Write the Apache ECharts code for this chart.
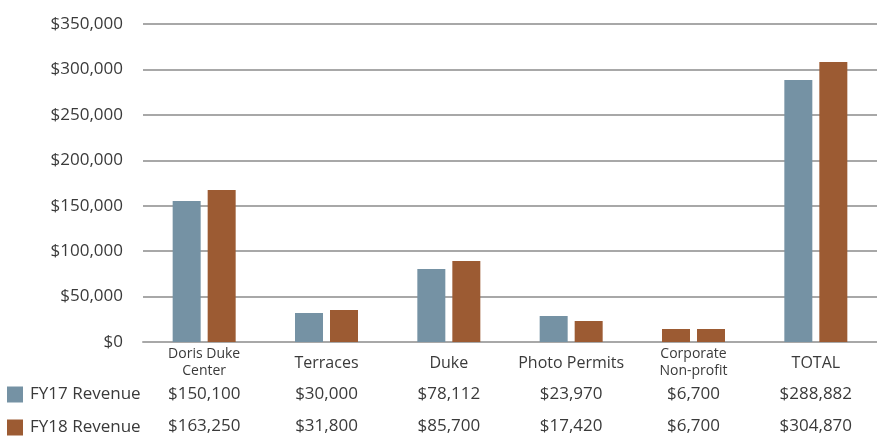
<!DOCTYPE html>
<html>
<head>
<meta charset="utf-8">
<script src="https://cdn.jsdelivr.net/npm/echarts@6/dist/echarts.min.js"></script>
<style>html,body{margin:0;padding:0;background:#fff}#c{width:877px;height:442px}</style>
</head>
<body>
<div id="c"></div>
<script>
const categories = ['Doris Duke\nCenter', 'Terraces', 'Duke', 'Photo Permits', 'Corporate\nNon-profit', 'TOTAL'];
const seriesNames = ['FY17 Revenue', 'FY18 Revenue'];
// values printed in the data table under the chart
const fy17Table = [150100, 30000, 78112, 23970, 6700, 288882];
const fy18Table = [163250, 31800, 85700, 17420, 6700, 304870];
// bar heights
const fy17Bars = [155300, 31900, 80400, 28600, 14300, 288400];
const fy18Bars = [167400, 35200, 89200, 23100, 14300, 308200];
const yTicks = [0, 50000, 100000, 150000, 200000, 250000, 300000, 350000];

const BLUE = '#7592a4';
const BROWN = '#9c5b33';
const TEXT = '#3a3a3a';
const GRID = '#a8a8a8';
const FONT = '"Open Sans", sans-serif';
// style override: the reference draws Corporate FY17 in the FY18 colour
const colorOverride17 = {4: BROWN};

const money = v => '$' + Number(v).toLocaleString('en-US');

const chart = echarts.init(document.getElementById('c'));
const tableAxis = (vals, margin) => ({
  type: 'category', data: categories, gridIndex: 0, position: 'bottom',
  axisLine: {show: false}, axisTick: {show: false}, splitLine: {show: false},
  axisLabel: {
    interval: 0, margin: margin, verticalAlign: 'middle', color: TEXT,
    fontFamily: FONT, fontSize: 17,
    formatter: (v, i) => money(vals[i])
  }
});
const legendBase = {
  left: 7, padding: 0, itemWidth: 16, itemHeight: 16, itemGap: 0, icon: 'rect',
  textStyle: {fontSize: 17, color: TEXT, fontFamily: FONT, padding: [0, 0, 0, 2]}
};
chart.setOption({
  animation: false,
  textStyle: {fontFamily: FONT},
  grid: {left: 143, right: 0, top: 24, bottom: 100, containLabel: false},
  legend: [
    Object.assign({data: [seriesNames[0]], top: 386}, legendBase),
    Object.assign({data: [seriesNames[1]], top: 419}, legendBase)
  ],
  xAxis: [
    {
      type: 'category', data: categories,
      axisLine: {show: true, lineStyle: {color: GRID, width: 2}},
      axisTick: {show: false},
      axisLabel: {
        interval: 0, margin: 21, verticalAlign: 'middle', color: TEXT, fontFamily: FONT,
        formatter: v => v.indexOf('\n') >= 0 ? '{s|' + v + '}' : '{b|' + v + '}',
        rich: {
          s: {fontSize: 14, lineHeight: 17, color: TEXT, fontFamily: FONT, align: 'center'},
          b: {fontSize: 16, lineHeight: 20, color: TEXT, fontFamily: FONT}
        }
      }
    },
    tableAxis(fy17Table, 52),
    tableAxis(fy18Table, 84)
  ],
  yAxis: {
    type: 'value', min: yTicks[0], max: yTicks[yTicks.length - 1], interval: 50000,
    axisLine: {show: false}, axisTick: {show: false},
    splitLine: {lineStyle: {color: GRID, width: 2}},
    axisLabel: {margin: 20, color: TEXT, fontSize: 17, fontFamily: FONT, formatter: v => money(v)}
  },
  series: [
    {name: seriesNames[0], type: 'bar', barWidth: 28, barGap: '25%', itemStyle: {color: BLUE},
     data: fy17Bars.map((v, i) => colorOverride17[i] ? {value: v, itemStyle: {color: colorOverride17[i]}} : v)},
    {name: seriesNames[1], type: 'bar', barWidth: 28, barGap: '25%', itemStyle: {color: BROWN}, data: fy18Bars}
  ]
});
</script>
</body>
</html>
